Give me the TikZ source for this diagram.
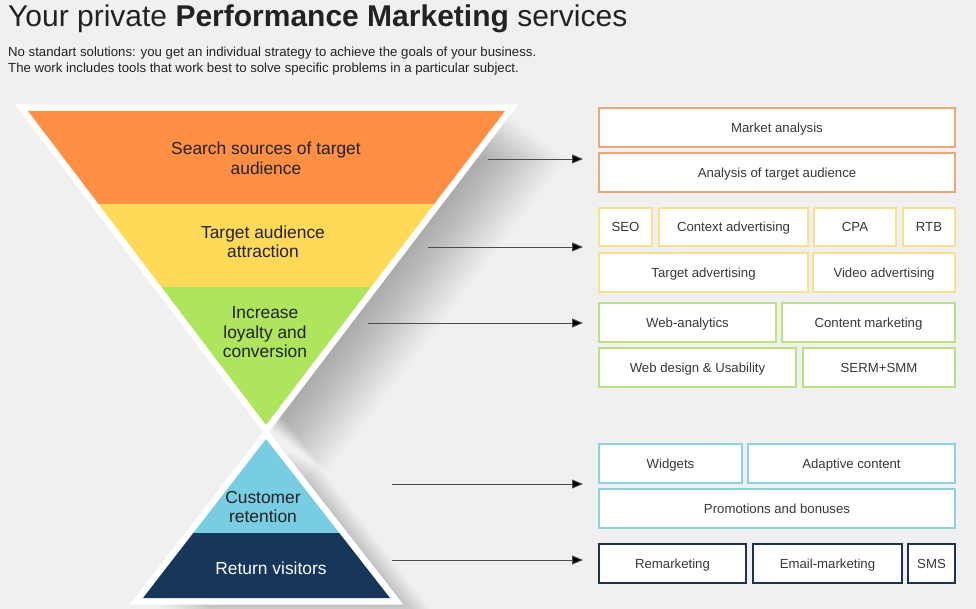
\documentclass[tikz,border=0pt]{standalone}
\usepackage{fontspec}
\setmainfont{Liberation Sans}
\usetikzlibrary{arrows.meta}

\definecolor{pagebg}{HTML}{F0F0F0}
\definecolor{inkdark}{HTML}{222222}
\definecolor{stageorange}{HTML}{FE8F45}
\definecolor{stageyellow}{HTML}{FFD958}
\definecolor{stagegreen}{HTML}{AFE55D}
\definecolor{stageblue}{HTML}{79CDE3}
\definecolor{stagenavy}{HTML}{16365A}
\definecolor{lineorange}{HTML}{EFA57A}
\definecolor{lineyellow}{HTML}{F6E28C}
\definecolor{linegreen}{HTML}{BAE282}
\definecolor{lineblue}{HTML}{8ED2E0}
\definecolor{linenavy}{HTML}{1E3250}

\begin{document}
\begin{tikzpicture}[x=1pt,y=-1pt,
    tool/.style={draw, fill=white, line width=2pt, text=inkdark!90,
      font=\fontsize{13.2}{15}\selectfont, inner sep=0pt,
      text height=9.4pt, text depth=0pt},
    stage/.style={align=center, text=inkdark,
      font=\fontsize{17.4}{19.5}\selectfont},
    link/.style={draw=black!70, line width=0.9pt,
      -{Triangle[length=11pt,width=9pt,fill=black]}}]
  \useasboundingbox (0,0) rectangle (976,609);
  \fill[pagebg] (0,0) rectangle (976,609);

  % title
  \node[anchor=base west, inner sep=0pt, text=inkdark,
    font=\fontsize{30}{33}\selectfont] (title) at (8,27)
    {Your private \textbf{Performance Marketing} services};
  \node[anchor=base west, inner sep=0pt, text=inkdark,
    font=\fontsize{13.2}{15}\selectfont] (sub1) at (8,57)
    {No standart solutions: you get an individual strategy to achieve the goals of your business.};
  \node[anchor=base west, inner sep=0pt, text=inkdark,
    font=\fontsize{13.2}{15}\selectfont] (sub2) at (8,73)
    {The work includes tools that work best to solve specific problems in a particular subject.};

  % soft shadow to the right of the funnel
  \foreach \k in {1,...,20} {
    \fill[black, opacity=0.016, shift={(3*\k,2.4*\k)}]
      (28,111) -- (505,111) -- (266,425) -- cycle;
    \fill[black, opacity=0.012, shift={(2.6*\k,1.3*\k)}]
      (266,439) -- (390,598) -- (143,598) -- cycle;
  }

  % upper funnel
  \draw[white, line width=13pt, line join=miter]
    (28,111) -- (505,111) -- (266,425) -- cycle;
  \begin{scope}
    \clip (28,111) -- (505,111) -- (266,425) -- cycle;
    \fill[stageorange] (0,100) rectangle (600,204);
    \fill[stageyellow] (0,204) rectangle (600,287);
    \fill[stagegreen] (0,287) rectangle (600,430);
  \end{scope}

  % lower funnel
  \draw[white, line width=13pt, line join=miter]
    (266,439) -- (390,598) -- (143,598) -- cycle;
  \begin{scope}
    \clip (266,439) -- (390,598) -- (143,598) -- cycle;
    \fill[stageblue] (100,430) rectangle (420,533);
    \fill[stagenavy] (100,533) rectangle (420,600);
  \end{scope}

  \node[stage] (search) at (266,158.5) {Search sources of target\\audience};
  \node[stage] (attract) at (263,242) {Target audience\\attraction};
  \node[stage] (loyalty) at (265,332.5) {Increase\\loyalty and\\conversion};
  \node[stage] (retain) at (263,507) {Customer\\retention};
  \node[stage, text=white] (return) at (271,568) {Return visitors};

  % orange tools
  \node[tool, draw=lineorange, minimum width=356, minimum height=39] (market) at (777,127.5) {Market analysis};
  \node[tool, draw=lineorange, minimum width=356, minimum height=39] (audience) at (777,172.5) {Analysis of target audience};

  % yellow tools
  \node[tool, draw=lineyellow, minimum width=53, minimum height=38] (seo) at (625.5,227) {SEO};
  \node[tool, draw=lineyellow, minimum width=149, minimum height=38] (context) at (733.5,227) {Context advertising};
  \node[tool, draw=lineyellow, minimum width=82, minimum height=38] (cpa) at (855,227) {CPA};
  \node[tool, draw=lineyellow, minimum width=52, minimum height=38] (rtb) at (929,227) {RTB};
  \node[tool, draw=lineyellow, minimum width=209, minimum height=39] (targetadv) at (703.5,272.5) {Target advertising};
  \node[tool, draw=lineyellow, minimum width=142, minimum height=39] (video) at (884,272.5) {Video advertising};

  % green tools
  \node[tool, draw=linegreen, minimum width=177, minimum height=39] (webana) at (687.5,322.5) {Web-analytics};
  \node[tool, draw=linegreen, minimum width=173, minimum height=39] (content) at (868.5,322.5) {Content marketing};
  \node[tool, draw=linegreen, minimum width=197, minimum height=39] (design) at (697.5,367.5) {Web design \& Usability};
  \node[tool, draw=linegreen, minimum width=152, minimum height=39] (serm) at (879,367.5) {SERM+SMM};

  % blue tools
  \node[tool, draw=lineblue, minimum width=143, minimum height=39] (widgets) at (670.5,463.5) {Widgets};
  \node[tool, draw=lineblue, minimum width=207, minimum height=39] (adaptive) at (851.5,463.5) {Adaptive content};
  \node[tool, draw=lineblue, minimum width=356, minimum height=39] (promo) at (777,508.5) {Promotions and bonuses};

  % navy tools
  \node[tool, draw=linenavy, minimum width=147, minimum height=39] (remark) at (672.5,563.5) {Remarketing};
  \node[tool, draw=linenavy, minimum width=149, minimum height=39] (email) at (827.5,563.5) {Email-marketing};
  \node[tool, draw=linenavy, minimum width=47, minimum height=39] (sms) at (931.5,563.5) {SMS};

  % arrows from stages to tools
  \coordinate (s1) at (488,159); \coordinate (e1) at (583,159);
  \coordinate (s2) at (428,247); \coordinate (e2) at (583,247);
  \coordinate (s3) at (368,323); \coordinate (e3) at (583,323);
  \coordinate (s4) at (392,484); \coordinate (e4) at (583,484);
  \coordinate (s5) at (392,560); \coordinate (e5) at (583,560);
  \draw[link] (s1) -- (e1);
  \draw[link] (s2) -- (e2);
  \draw[link] (s3) -- (e3);
  \draw[link] (s4) -- (e4);
  \draw[link] (s5) -- (e5);
\end{tikzpicture}
\end{document}
